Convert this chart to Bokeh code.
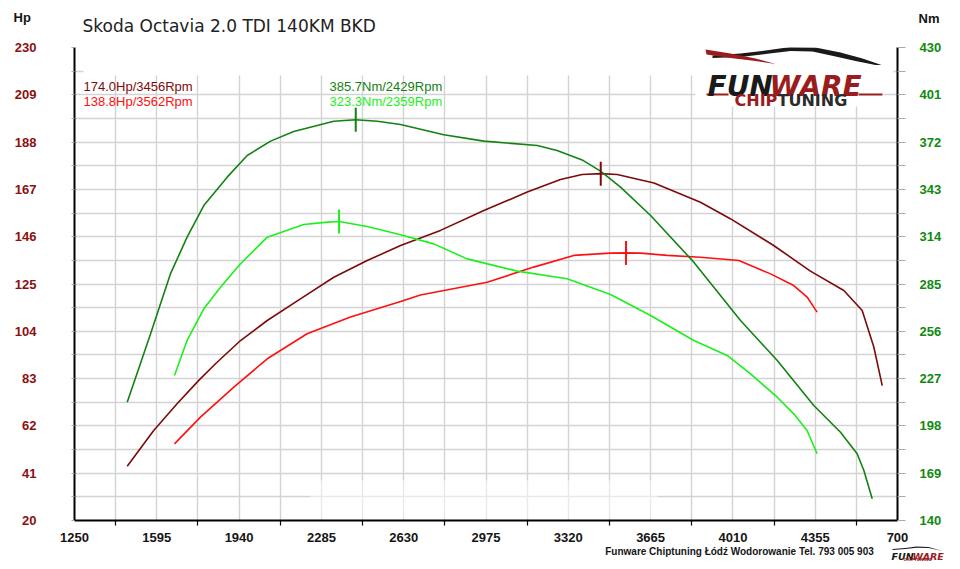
from bokeh.plotting import figure
from bokeh.models import Range1d, LinearAxis, FixedTicker, Label
from bokeh.layouts import column
from bokeh.core.properties import value
from bokeh.embed import file_html
from bokeh.resources import INLINE

# ---------------- data ----------------
rpm_hp_tuned = [1471, 1582, 1680, 1771, 1841, 1946, 2058, 2197, 2337, 2477, 2617, 2784, 2966,
                3148, 3287, 3378, 3456, 3525, 3679, 3874, 3999, 4181, 4335, 4475, 4552, 4601, 4636]
hp_tuned = [44.1, 60.0, 71.8, 82.2, 89.6, 99.9, 108.8, 118.4, 128.0, 135.4, 142.1, 148.8, 157.6,
            165.8, 171.4, 173.6, 174.0, 173.6, 169.8, 161.3, 154.0, 142.1, 130.7, 122.1, 113.2, 96.9, 79.9]

rpm_hp_stock = [1669, 1778, 1918, 2058, 2225, 2407, 2617, 2700, 2980, 3175, 3343, 3497, 3562,
                3623, 3735, 3874, 4035, 4168, 4265, 4321, 4363]
hp_stock = [54.0, 65.9, 79.2, 91.8, 102.9, 110.3, 117.2, 120.1, 125.8, 132.5, 137.7, 138.7, 138.8,
            138.7, 137.7, 136.9, 135.4, 129.5, 124.3, 119.2, 112.5]

rpm_nm_tuned = [1471, 1569, 1652, 1722, 1792, 1890, 1974, 2072, 2169, 2337, 2429, 2519, 2617, 2798,
                2966, 3190, 3273, 3378, 3455, 3539, 3665, 3846, 4042, 4196, 4349, 4461, 4531, 4559, 4594]
nm_tuned = [212.5, 254.5, 291.2, 313.7, 333.1, 350.5, 363.8, 372.6, 378.5, 384.8, 385.7, 384.8, 382.8, 376.5,
            372.6, 369.9, 366.8, 361.1, 354.2, 344.4, 327.0, 298.4, 262.6, 238.1, 210.5, 194.1, 180.9, 170.7, 153.3]

rpm_nm_stock = [1669, 1722, 1792, 1862, 1946, 2058, 2211, 2300, 2359, 2477, 2617, 2756, 2896, 3106,
                3315, 3497, 3665, 3846, 3986, 4084, 4196, 4265, 4321, 4363]
nm_stock = [228.9, 250.4, 269.8, 283.0, 297.4, 313.7, 321.5, 322.8, 323.3, 320.2, 315.2, 309.6, 300.4, 292.9,
            288.2, 278.6, 265.7, 250.4, 241.2, 229.9, 215.6, 205.4, 195.2, 180.9]

peak_rpm = [3456, 3562, 2429, 2359]
peak_val = [174.0, 138.8, 385.7, 323.3]
peak_text = ["174.0Hp/3456Rpm", "138.8Hp/3562Rpm", "385.7Nm/2429Rpm", "323.3Nm/2359Rpm"]

x_ticks = [1250, 1595, 1940, 2285, 2630, 2975, 3320, 3665, 4010, 4355, 4700]
x_minor = [1422.5, 1767.5, 2112.5, 2457.5, 2802.5, 3147.5, 3492.5, 3837.5, 4182.5, 4527.5]
hp_ticks = [20, 41, 62, 83, 104, 125, 146, 167, 188, 209, 230]
hp_minor = [30.5, 51.5, 72.5, 93.5, 114.5, 135.5, 156.5, 177.5, 198.5, 219.5]
nm_ticks = [140, 169, 198, 227, 256, 285, 314, 343, 372, 401, 430]
nm_minor = [154.5, 183.5, 212.5, 241.5, 270.5, 299.5, 328.5, 357.5, 386.5, 415.5]

title_text = "Skoda Octavia 2.0 TDI 140KM BKD"
footer_text = "Funware Chiptuning Łódź Wodorowanie Tel. 793 005 903"

# ---------------- colours ----------------
C_HP_T = "#7d0a0a"
C_HP_S = "#ff1010"
C_NM_T = "#128212"
C_NM_S = "#1cf01c"
C_LOGO_RED = "#9b1c1c"
C_TXT = "#151515"

W = 960
HDR_H = 38
FTR_Y = 544
FTR_H = 569 - FTR_Y
FW, FH = 823, 473
FL, FT = 74, 47          # frame left / top on the page
X0, X1, Y0, Y1 = 1250, 4700, 20, 230


def px_x(px):  # decoration helper: page pixel -> data x
    return X0 + (px - FL) / FW * (X1 - X0)


def px_y(py):  # decoration helper: page pixel -> data y (hp)
    return Y0 + (FT + FH - py) / FH * (Y1 - Y0)


def no_align(f):
    if "frame_align" in f.properties():
        f.frame_align = False


def strip(height, y_top):
    f = figure(frame_width=W, frame_height=height, x_range=Range1d(0, W),
               y_range=Range1d(y_top + height, y_top),
               output_backend="svg", toolbar_location=None, min_border=0,
               x_axis_type=None, y_axis_type=None, outline_line_color=None,
               background_fill_color="white", border_fill_color="white")
    no_align(f)
    return f


def stext(f, x, y, t, size, color, font="Liberation Sans", style="normal", align="left", baseline="middle"):
    f.text(x=[x], y=[y], text=[t], text_font=value(font), text_font_size=size, text_color=color,
           text_font_style=style, text_align=align, text_baseline=baseline)


# ---------------- header strip ----------------
hdr = strip(HDR_H, 0)
stext(hdr, 13, 17, "Hp", "13px", C_TXT, style="bold")
stext(hdr, 918, 18, "Nm", "13px", C_TXT, style="bold")
stext(hdr, 82, 25, title_text, "17px", "#222222", font="DejaVu Sans")

# ---------------- main chart ----------------
p = figure(frame_width=FW, frame_height=FH,
           x_range=Range1d(X0, X1), y_range=Range1d(Y0, Y1),
           output_backend="svg", toolbar_location=None,
           min_border_left=FL, min_border_right=W - FL - FW,
           min_border_top=FT - HDR_H, min_border_bottom=FTR_Y - (FT + FH),
           background_fill_color="white", border_fill_color="white", outline_line_color=None)
no_align(p)
p.extra_y_ranges = {"nm": Range1d(140, 430)}

xt = FixedTicker(ticks=x_ticks, minor_ticks=x_minor)
yt = FixedTicker(ticks=hp_ticks, minor_ticks=hp_minor)
nt = FixedTicker(ticks=nm_ticks, minor_ticks=nm_minor)

GRID = "#d3d3d3"
p.xgrid.ticker = xt
p.ygrid.ticker = yt
for g in (p.xgrid, p.ygrid):
    g.grid_line_color = GRID
    g.minor_grid_line_color = GRID
    g.grid_line_width = 1.4
    g.minor_grid_line_width = 1.4

xa = p.xaxis[0]
xa.ticker = xt
xa.axis_line_width = 2
xa.axis_line_color = "black"
xa.major_tick_line_color = None
xa.major_tick_out = 0
xa.major_tick_in = 0
xa.minor_tick_line_color = "black"
xa.minor_tick_line_width = 1.2
xa.minor_tick_out = 5
xa.minor_tick_in = 0
xa.major_label_text_font = "Liberation Sans"
xa.major_label_text_font_style = "bold"
xa.major_label_text_font_size = "13px"
xa.major_label_text_color = C_TXT
xa.major_label_standoff = 7
xa.major_label_overrides = {4700: "700"}

ya = p.yaxis[0]
ya.ticker = yt
ya.axis_line_width = 2
ya.axis_line_color = "black"
ya.major_tick_line_color = "#aaaaaa"
ya.minor_tick_line_color = "#aaaaaa"
ya.major_tick_out = 3
ya.major_tick_in = 0
ya.minor_tick_out = 3
ya.minor_tick_in = 0
ya.major_label_text_font = "Liberation Sans"
ya.major_label_text_font_style = "bold"
ya.major_label_text_font_size = "13px"
ya.major_label_text_color = "#8b1010"
ya.major_label_standoff = 35

ra = LinearAxis(y_range_name="nm", ticker=nt)
ra.axis_line_width = 2
ra.axis_line_color = "black"
ra.major_tick_line_color = "#aaaaaa"
ra.minor_tick_line_color = "#aaaaaa"
ra.major_tick_out = 8
ra.major_tick_in = 0
ra.minor_tick_out = 8
ra.minor_tick_in = 0
ra.major_label_text_font = "Liberation Sans"
ra.major_label_text_font_style = "bold"
ra.major_label_text_font_size = "13px"
ra.major_label_text_color = "#0f8a0f"
ra.major_label_standoff = 14
p.add_layout(ra, "right")

# white covering boxes (top band, logo area, faint watermark)
p.quad(left=px_x(83), right=px_x(893), bottom=px_y(75), top=Y1, fill_color="white", line_color=None)
p.quad(left=px_x(695), right=px_x(883), bottom=px_y(106), top=Y1, fill_color="white", line_color=None)
p.quad(left=px_x(310), right=px_x(657), bottom=px_y(518), top=px_y(480),
       fill_color="white", fill_alpha=0.5, line_color=None)

# curves
LW = 1.6
p.line(rpm_hp_tuned, hp_tuned, line_color=C_HP_T, line_width=LW)
p.line(rpm_hp_stock, hp_stock, line_color=C_HP_S, line_width=LW)
p.line(rpm_nm_tuned, nm_tuned, line_color=C_NM_T, line_width=LW, y_range_name="nm")
p.line(rpm_nm_stock, nm_stock, line_color=C_NM_S, line_width=LW, y_range_name="nm")

# peak markers (vertical bars about 12 px each side)
hp_half = 12 * (Y1 - Y0) / FH
nm_half = 12 * (430 - 140) / FH
p.segment(x0=peak_rpm[0], x1=peak_rpm[0], y0=peak_val[0] - hp_half, y1=peak_val[0] + hp_half,
          line_color=C_HP_T, line_width=2)
p.segment(x0=peak_rpm[1], x1=peak_rpm[1], y0=peak_val[1] - hp_half, y1=peak_val[1] + hp_half,
          line_color=C_HP_S, line_width=2)
p.segment(x0=peak_rpm[2], x1=peak_rpm[2], y0=peak_val[2] - nm_half, y1=peak_val[2] + nm_half,
          line_color=C_NM_T, line_width=2, y_range_name="nm")
p.segment(x0=peak_rpm[3], x1=peak_rpm[3], y0=peak_val[3] - nm_half, y1=peak_val[3] + nm_half,
          line_color=C_NM_S, line_width=2, y_range_name="nm")

# logo (decoration)
roof = [(712, 55), (740, 53), (765, 50), (790, 46.5), (815, 47), (840, 52), (862, 58), (881, 64.5),
        (875, 64.5), (855, 60.5), (835, 56), (812, 51), (790, 50.5), (765, 53.5), (740, 56.5), (712, 57.5)]
p.patch([px_x(a) for a, b in roof], [px_y(b) for a, b in roof], fill_color="#1a1a1a", line_color=None)
swoosh = [(705, 49), (730, 53), (755, 58), (775, 63.5), (755, 60.5), (730, 57.5), (706, 54)]
p.patch([px_x(a) for a, b in swoosh], [px_y(b) for a, b in swoosh], fill_color=C_LOGO_RED, line_color=None)
p.segment(x0=[px_x(706), px_x(858)], x1=[px_x(728), px_x(882)], y0=[px_y(94)] * 2, y1=[px_y(94)] * 2,
          line_color=C_LOGO_RED, line_width=2)


def lab(text, x, y, size, color, font="Liberation Sans", style="normal", align="left", baseline="middle"):
    # x, y in page pixels, converted to frame-relative screen units
    p.add_layout(Label(x=x - FL, y=FT + FH - y, x_units="screen", y_units="screen", text=text,
                       text_font=font, text_font_size=size, text_color=color, text_font_style=style,
                       text_align=align, text_baseline=baseline))


lab("FUN", 707, 86, "28px", "#1a1a1a", font="DejaVu Sans", style="bold italic", baseline="alphabetic")
lab("WARE", 769, 86, "28px", C_LOGO_RED, font="DejaVu Sans", style="bold italic", baseline="alphabetic")
lab("CHIP", 734, 99.5, "16px", C_LOGO_RED, font="DejaVu Sans", style="bold", baseline="alphabetic")
lab("TUNING", 777, 99.5, "16px", "#2b2b2b", font="DejaVu Sans", style="bold", baseline="alphabetic")

lab(peak_text[0], 83, 86, "13px", C_HP_T)
lab(peak_text[1], 83, 101, "13px", C_HP_S)
lab(peak_text[2], 329, 86, "13px", C_NM_T)
lab(peak_text[3], 329, 101, "13px", C_NM_S)

# ---------------- footer strip ----------------
ftr = strip(FTR_H, FTR_Y)
stext(ftr, 739, 551, footer_text, "10px", C_TXT, style="bold", align="center")
small_roof = [(892, 548.5), (905, 547.5), (916, 546), (928, 546.5), (942, 550.5),
              (928, 547.5), (916, 547.3), (905, 548.6), (892, 549.5)]
ftr.patch([a for a, b in small_roof], [b for a, b in small_roof], fill_color="#1a1a1a", line_color=None)
stext(ftr, 891, 556, "FUN", "9.5px", "#1a1a1a", font="DejaVu Sans", style="bold italic", baseline="alphabetic")
stext(ftr, 912, 556, "WARE", "9.5px", C_LOGO_RED, font="DejaVu Sans", style="bold italic", baseline="alphabetic")
stext(ftr, 917, 558.5, "CHIPTUNING", "4px", C_LOGO_RED, font="DejaVu Sans", style="bold", align="center")

layout = column(hdr, p, ftr, spacing=0)
open("out.html", "w").write(file_html(layout, INLINE))
